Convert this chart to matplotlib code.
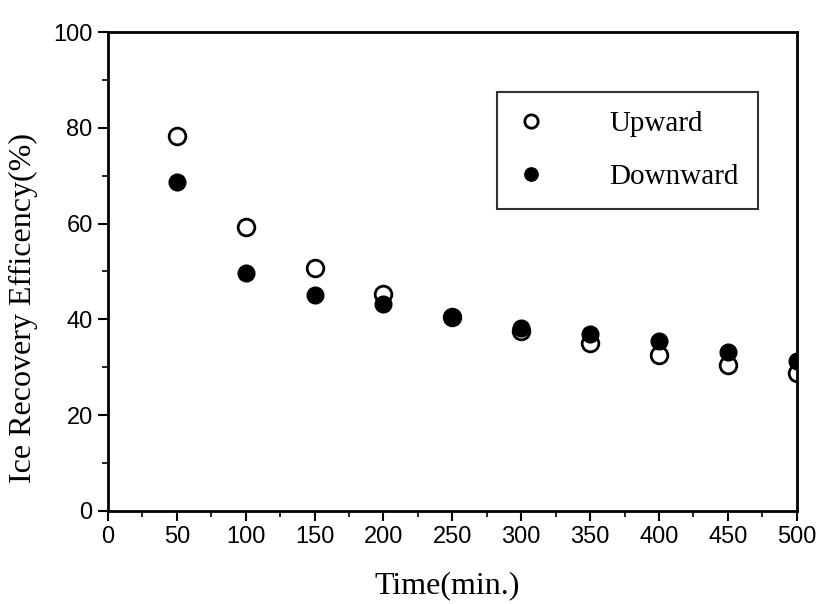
import matplotlib.pyplot as plt
from matplotlib.ticker import MultipleLocator

time_min = [50, 100, 150, 200, 250, 300, 350, 400, 450, 500]
upward = [78.2, 59.3, 50.7, 45.2, 40.6, 37.5, 35.0, 32.6, 30.5, 28.9]
downward = [68.7, 49.7, 45.1, 43.2, 40.5, 38.1, 36.9, 35.5, 33.2, 31.4]

fig = plt.figure(figsize=(8.24, 6.04), dpi=100)
ax = fig.add_axes([0.131, 0.154, 0.836, 0.793])

ax.plot(time_min, upward, 'o', mfc='white', mec='black', mew=2.0, ms=12, label='Upward')
ax.plot(time_min, downward, 'o', mfc='black', mec='black', ms=12, label='Downward')

ax.set_xlim(0, 500)
ax.set_ylim(0, 100)
ax.xaxis.set_major_locator(MultipleLocator(50))
ax.xaxis.set_minor_locator(MultipleLocator(25))
ax.yaxis.set_major_locator(MultipleLocator(20))
ax.yaxis.set_minor_locator(MultipleLocator(10))
ax.tick_params(which='major', direction='out', length=7, width=1.5, labelsize=17, pad=4)
ax.tick_params(which='minor', direction='out', length=4, width=1.2)
for lab in ax.get_xticklabels() + ax.get_yticklabels():
    lab.set_family('Liberation Sans')
for s in ax.spines.values():
    s.set_linewidth(2)

ax.set_xlabel('Time(min.)', family='Liberation Serif', fontsize=23)
ax.xaxis.set_label_coords(0.492, -0.125)
ax.set_ylabel('Ice Recovery Efficency(%)', family='Liberation Serif', fontsize=23)
ax.yaxis.set_label_coords(-0.102, 0.424)

leg = ax.legend(loc='upper left', bbox_to_anchor=(0.565, 0.875), borderaxespad=0,
                frameon=True, fancybox=False,
                edgecolor='black', prop={'family': 'Liberation Serif', 'size': 21},
                handletextpad=2.2, labelspacing=0.9, borderpad=0.65, handlelength=1.0,
                markerscale=0.8)
leg.get_frame().set_linewidth(1.5)

fig.savefig('out.png', dpi=100)
